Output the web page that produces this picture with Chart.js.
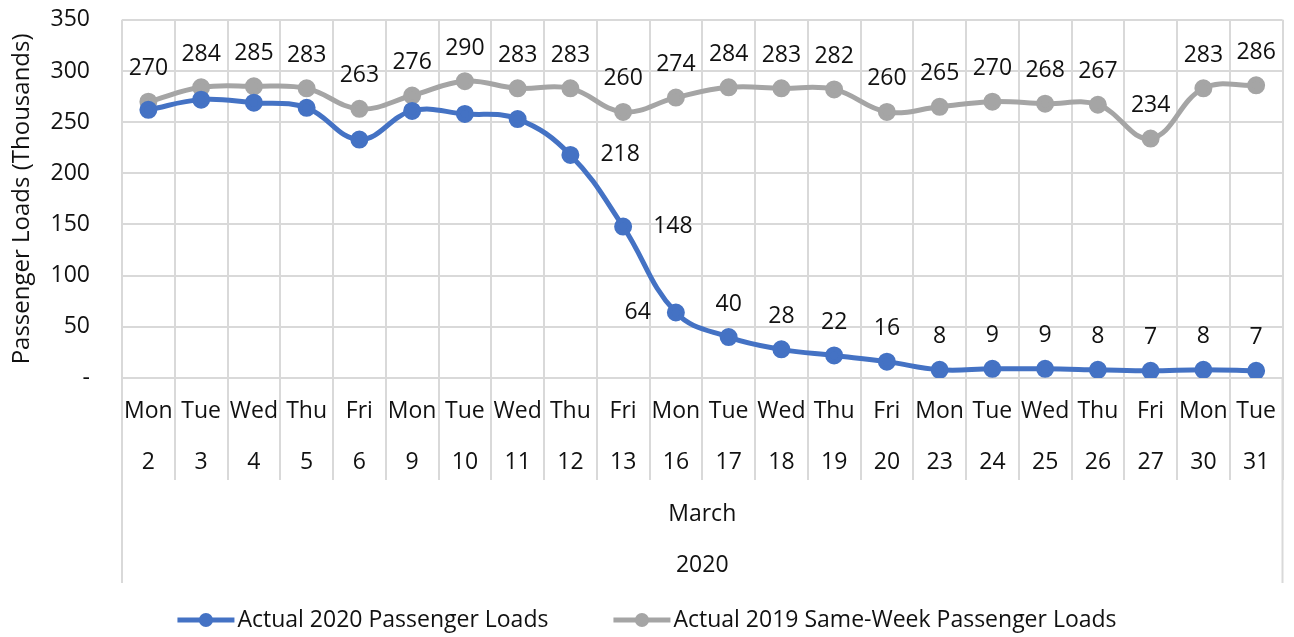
<!DOCTYPE html>
<html>
<head>
<meta charset="utf-8">
<script src="https://cdn.jsdelivr.net/npm/chart.js@4"></script>
<style>
  html, body { margin: 0; padding: 0; background: #fff; }
  #wrap { width: 1294px; height: 637px; }
</style>
</head>
<body>
<div id="wrap"><canvas id="chart" width="1294" height="637"></canvas></div>
<script>
// ── Data ──────────────────────────────────────────────────────
const DAYS  = ['Mon','Tue','Wed','Thu','Fri','Mon','Tue','Wed','Thu','Fri','Mon',
               'Tue','Wed','Thu','Fri','Mon','Tue','Wed','Thu','Fri','Mon','Tue'];
const DATES = ['2','3','4','5','6','9','10','11','12','13','16',
               '17','18','19','20','23','24','25','26','27','30','31'];
const MONTH = 'March';
const YEAR  = '2020';

const LOADS_2020 = [262, 272, 269, 264, 233, 261, 258, 253, 218, 148, 64,
                    40, 28, 22, 16, 8, 9, 9, 8, 7, 8, 7];
const LOADS_2019 = [270, 284, 285, 283, 263, 276, 290, 283, 283, 260, 274,
                    284, 283, 282, 260, 265, 270, 268, 267, 234, 283, 286];

const Y_TICKS = { min: 0, max: 350, step: 50 };

// ── Style ─────────────────────────────────────────────────────
const COLORS = {
  blue: '#4472C4',
  gray: '#A5A5A5',
  grid: '#D9D9D9',
  text: '#111111',
};
const FONT = "'Open Sans', 'Noto Sans', sans-serif";
const FS = 23;

// where each point's value label goes ('' = no label)
const LABEL_POS_2020 = ['', '', '', '', '', '', '', '', 'right', 'right', 'left',
                        'top', 'top', 'top', 'top', 'top', 'top', 'top', 'top', 'top', 'top', 'top'];
const LABEL_POS_2019 = DATES.map(() => 'top');

// ── Plugins ───────────────────────────────────────────────────
const valueLabels = {
  id: 'valueLabels',
  afterDatasetsDraw(chart) {
    const ctx = chart.ctx;
    ctx.save();
    ctx.font = `${FS}px ${FONT}`;
    ctx.fillStyle = COLORS.text;
    ctx.textBaseline = 'middle';
    chart.data.datasets.forEach((ds, di) => {
      const meta = chart.getDatasetMeta(di);
      meta.data.forEach((pt, i) => {
        const pos = ds.labelPos[i];
        if (!pos) return;
        const txt = String(ds.data[i]);
        if (pos === 'top') {
          ctx.textAlign = 'center';
          ctx.fillText(txt, pt.x, pt.y - 33);
        } else if (pos === 'right') {
          ctx.textAlign = 'left';
          ctx.fillText(txt, pt.x + 30, pt.y);
        } else {
          ctx.textAlign = 'right';
          ctx.fillText(txt, pt.x - 25, pt.y);
        }
      });
    });
    ctx.restore();
  }
};

const axisFrame = {
  id: 'axisFrame',
  afterDraw(chart) {
    const { ctx, chartArea } = chart;
    const x = chart.scales.x;
    ctx.save();
    ctx.strokeStyle = COLORS.grid;
    ctx.lineWidth = 2;
    ctx.beginPath();
    [chartArea.left, chartArea.right].forEach(px => {
      ctx.moveTo(px, chartArea.bottom);
      ctx.lineTo(px, x.bottom - 8);
    });
    ctx.stroke();

    // legend
    const items = chart.data.datasets.map(ds => ({ label: ds.label, color: ds.borderColor }));
    ctx.font = `${FS}px ${FONT}`;
    ctx.textBaseline = 'middle';
    ctx.textAlign = 'left';
    const markW = 57, gapText = 3, gapItem = 65;
    const widths = items.map(it => markW + gapText + ctx.measureText(it.label).width);
    const total = widths.reduce((a, b) => a + b, 0) + gapItem * (items.length - 1);
    let cx = chart.width / 2 - total / 2;
    const cy = 620;
    items.forEach((it, i) => {
      ctx.strokeStyle = it.color;
      ctx.fillStyle = it.color;
      ctx.lineWidth = 5;
      ctx.beginPath();
      ctx.moveTo(cx, cy);
      ctx.lineTo(cx + markW, cy);
      ctx.stroke();
      ctx.beginPath();
      ctx.arc(cx + markW / 2, cy, 7, 0, Math.PI * 2);
      ctx.fill();
      ctx.fillStyle = COLORS.text;
      ctx.fillText(it.label, cx + markW + gapText, cy);
      cx += widths[i] + gapItem;
    });
    ctx.restore();
  }
};

// ── Chart ─────────────────────────────────────────────────────
const seriesStyle = color => ({
  borderColor: color,
  backgroundColor: color,
  pointBackgroundColor: color,
  pointBorderColor: color,
  borderWidth: 5,
  pointRadius: 6.5,
  pointHoverRadius: 6.5,
  tension: 0.4,
  fill: false,
});

new Chart(document.getElementById('chart'), {
  type: 'line',
  data: {
    labels: DAYS.map((d, i) => [d, DATES[i]]),
    datasets: [
      { label: 'Actual 2020 Passenger Loads', data: LOADS_2020, labelPos: LABEL_POS_2020, ...seriesStyle(COLORS.blue) },
      { label: 'Actual 2019 Same-Week Passenger Loads', data: LOADS_2019, labelPos: LABEL_POS_2019, ...seriesStyle(COLORS.gray) },
    ]
  },
  options: {
    responsive: false,
    animation: false,
    layout: { padding: { top: 0, right: 9, bottom: 46, left: 0 } },
    plugins: {
      legend: { display: false },
      tooltip: { enabled: false },
    },
    scales: {
      x: {
        offset: true,
        afterFit: s => { s.height = 213; },
        grid: { offset: true, color: COLORS.grid, lineWidth: 2, tickLength: 102, tickColor: COLORS.grid },
        border: { display: false },
        ticks: { color: COLORS.text, font: { family: FONT, size: FS, lineHeight: 2.22 }, padding: -94, maxRotation: 0, autoSkip: false },
        title: { display: true, text: [MONTH, YEAR], color: COLORS.text, font: { family: FONT, size: FS, lineHeight: 2.22 }, padding: { top: 1, bottom: 0 } },
      },
      y: {
        min: Y_TICKS.min,
        max: Y_TICKS.max,
        afterFit: s => { s.width = 122; },
        grid: { color: COLORS.grid, lineWidth: 2, drawTicks: true, tickLength: 26, tickColor: 'rgba(0,0,0,0)' },
        border: { display: false },
        ticks: {
          stepSize: Y_TICKS.step,
          padding: 6,
          color: COLORS.text,
          font: { family: FONT, size: FS },
          callback: v => v === 0 ? '-' : v,
        },
        title: { display: true, text: 'Passenger Loads (Thousands)', color: COLORS.text, font: { family: FONT, size: 24 }, padding: { top: 8, bottom: 0 } },
      }
    }
  },
  plugins: [valueLabels, axisFrame],
});
</script>
</body>
</html>
